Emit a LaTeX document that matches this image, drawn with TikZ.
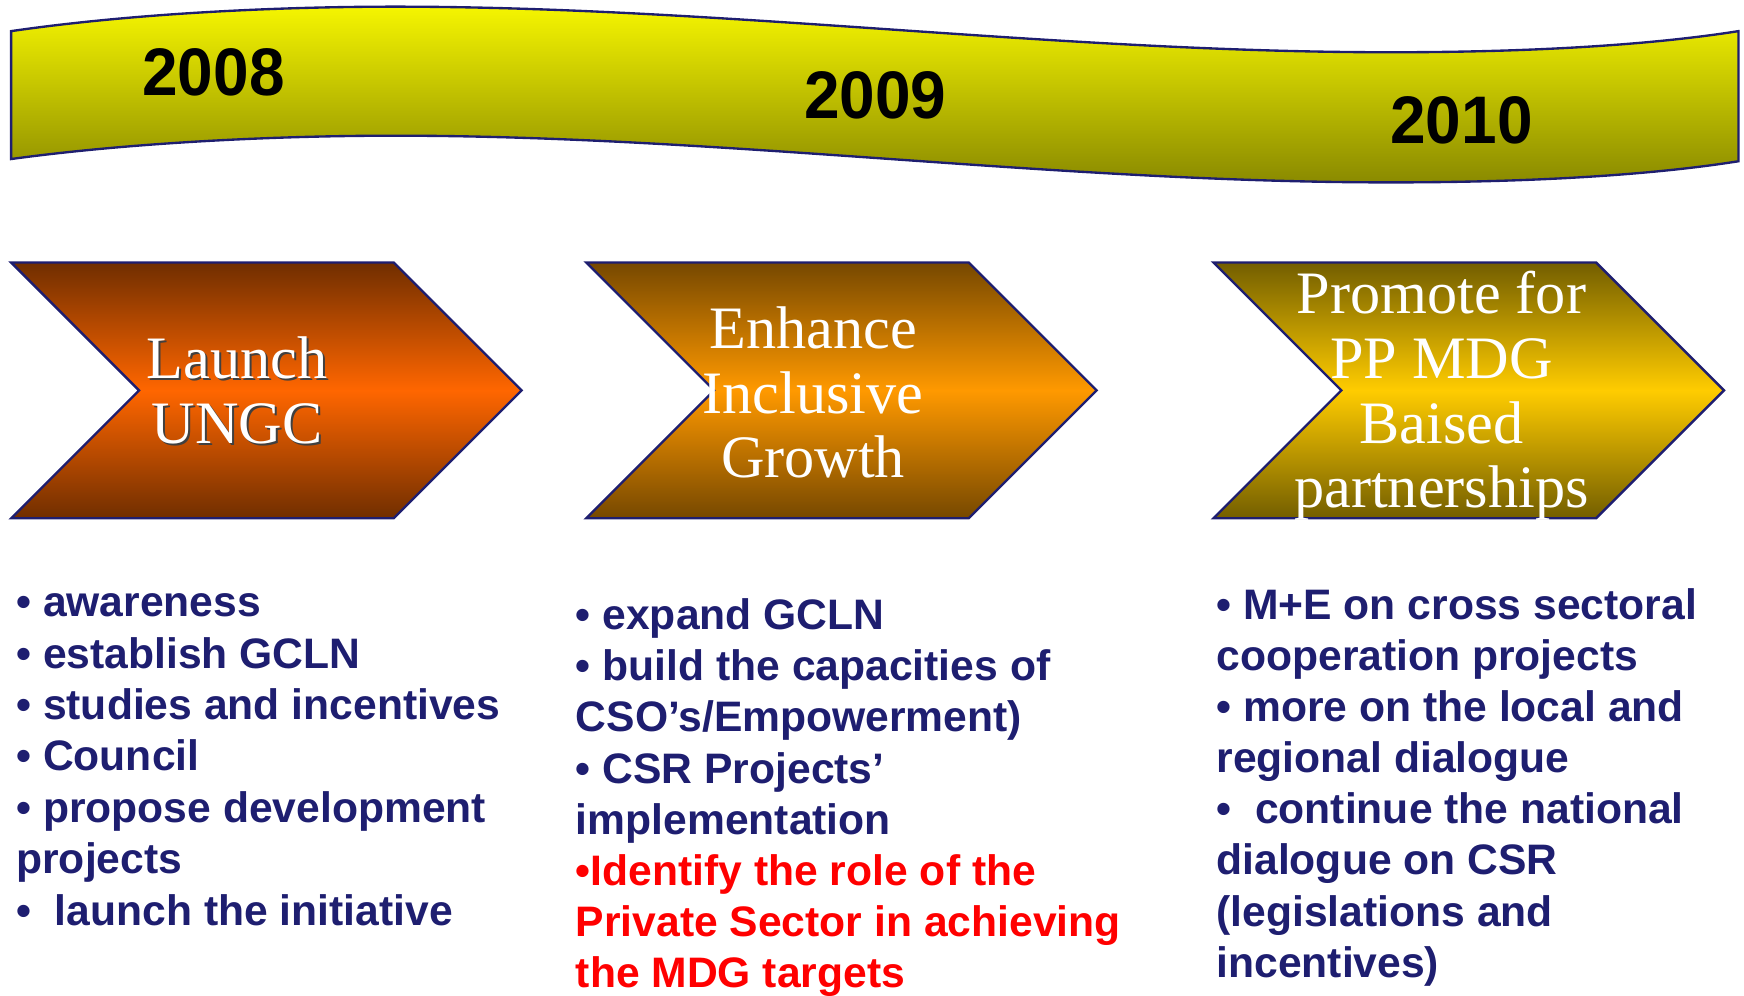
\documentclass[tikz,border=0pt]{standalone}
\usepackage{fontspec}
\setmainfont{Liberation Serif}
\setsansfont{Liberation Sans}
\definecolor{navy}{RGB}{30,30,112}
\definecolor{bannertop}{RGB}{245,245,0}
\definecolor{bannerbot}{RGB}{138,138,0}
\definecolor{midlaunch}{RGB}{255,102,0}
\definecolor{edgelaunch}{RGB}{112,46,0}
\definecolor{midenhance}{RGB}{255,153,0}
\definecolor{edgeenhance}{RGB}{118,72,0}
\definecolor{midpromote}{RGB}{255,204,0}
\definecolor{edgepromote}{RGB}{115,94,0}
\begin{document}
\begin{tikzpicture}[x=0.01cm, y=-0.01cm,
    year/.style={inner sep=0, font=\sffamily\bfseries\fontsize{17.2}{20}\selectfont},
    chevtext/.style={inner sep=0, align=center, text=white, font=\fontsize{15.4}{16.5}\selectfont},
    item/.style={anchor=base west, inner sep=0, text=navy, font=\sffamily\bfseries\fontsize{10.9}{13.1}\selectfont}]
        \useasboundingbox (0,0) rectangle (1568,895);
        % wave banner with the years
        \draw [navy, line width=0.6pt, top color=bannertop, bottom color=bannerbot]
            (10,28) .. controls (120,12) and (250,6) .. (355,6)
            .. controls (650,6) and (950,47) .. (1250,47)
            .. controls (1400,47) and (1500,38) .. (1563,28) -- (1563,145)
            .. controls (1500,155) and (1400,164) .. (1250,164)
            .. controls (950,164) and (650,122) .. (355,122)
            .. controls (250,122) and (120,128) .. (10,143) -- cycle;
        \node (y2008) [year] at (192,65) {\scalebox{0.95}[1]{2008}};
        \node (y2009) [year] at (787,86) {\scalebox{0.95}[1]{2009}};
        \node (y2010) [year] at (1314,108) {\scalebox{0.95}[1]{2010}};
        % chevrons
        \foreach \x/\col in {10/launch, 527/enhance, 1091/promote}
            \draw [navy, line width=0.6pt, top color=edge\col, bottom color=edge\col, middle color=mid\col]
                (\x,236) -- ++(344,0) -- ++(115,115) -- ++(-115,115) -- ++(-344,0) -- ++(115,-115) -- cycle;
        \node (launchshadow) [chevtext, text=black!75] at (215,353) {Launch\\UNGC};
        \node (launch) [chevtext] at (213,351) {Launch\\UNGC};
        \node (enhance) [chevtext] at (731,353) {Enhance\\Inclusive\\Growth};
        \node (promote) [chevtext] at (1296,356) {Promote for\\PP MDG\\Baised\\partnerships};
        % lists under the chevrons
        \foreach \txt [count=\i from 0] in {• awareness, • establish GCLN, • studies and incentives, • Council, • propose development, projects, •~ launch the initiative}
            \node (plan-\i) [item] at (14,554.5+46.2*\i) {\txt};
        \foreach \txt [count=\i from 0] in {• expand GCLN, • build the capacities of, {CSO’s/Empowerment)}, • CSR Projects’, implementation}
            \node (grow-\i) [item] at (517,566+46*\i) {\txt};
        \foreach \txt [count=\i from 5] in {•Identify the role of the, Private Sector in achieving, the MDG targets}
            \node (grow-\i) [item, text=red] at (517,566+46*\i) {\txt};
        \foreach \txt [count=\i from 0] in {• M+E on cross sectoral, cooperation projects, • more on the local and, regional dialogue, •~ continue the national, dialogue on CSR, {(legislations and}, incentives)}
            \node (part-\i) [item] at (1093,556.6+46*\i) {\txt};
    \end{tikzpicture}
\end{document}
